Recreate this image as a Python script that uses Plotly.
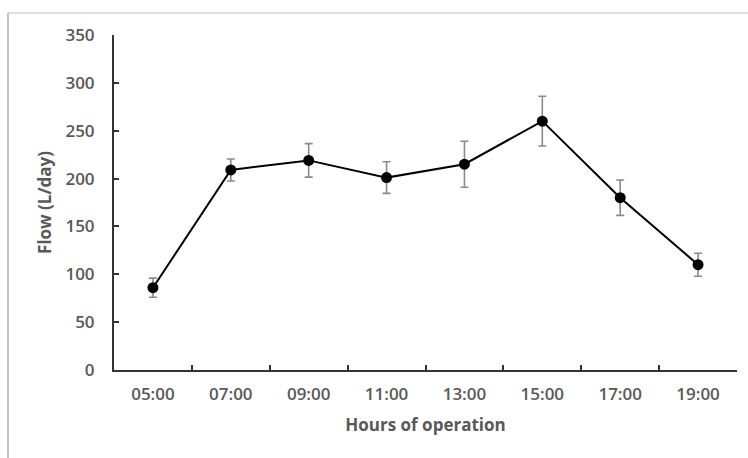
import plotly.graph_objects as go

hours = ["05:00", "07:00", "09:00", "11:00", "13:00", "15:00", "17:00", "19:00"]
flow = [86, 209, 219, 201, 215, 260, 180, 110]
err = [10, 11.5, 17.5, 16.5, 24, 26, 18.5, 12]
y_ticks = [0, 50, 100, 150, 200, 250, 300, 350]

W, H = 748, 458
ML, MR, MT, MB = 114, 11, 35, 88
pw, ph = W - ML - MR, H - MT - MB

def px_x(x):
    return (x - ML) / pw

def px_y(y):
    return (H - MB - y) / ph

fig = go.Figure()
fig.add_trace(go.Scatter(
    x=hours, y=flow, mode="lines+markers",
    line=dict(color="black", width=2),
    marker=dict(color="black", size=11),
    error_y=dict(type="data", array=err, visible=True, color="#8a8a8a", thickness=1.6, width=4),
    showlegend=False,
))

tick_font = dict(family="Open Sans, sans-serif", size=17, color="#595959", weight=600)
title_font = dict(family="Open Sans, sans-serif", size=17, color="#595959", weight=700)

fig.update_layout(
    width=W, height=H,
    margin=dict(l=ML, r=MR, t=MT, b=MB),
    paper_bgcolor="white", plot_bgcolor="white",
    xaxis=dict(
        type="category", range=[-0.5, len(hours) - 0.5],
        showline=True, linecolor="#333333", linewidth=2,
        ticks="inside", ticklen=5, tickwidth=1.5, tickcolor="#333333",
        tickson="boundaries", showgrid=False, zeroline=False,
        tickfont=tick_font, ticklabelstandoff=8,
        title=dict(text="Hours of operation", font=title_font, standoff=15),
    ),
    yaxis=dict(
        range=[0, 350], tickvals=y_ticks,
        showline=True, linecolor="#333333", linewidth=2,
        ticks="inside", ticklen=5, tickwidth=1.5, tickcolor="#333333",
        showgrid=False, zeroline=False,
        tickfont=tick_font, ticklabelstandoff=14,
        title=dict(text="Flow (L/day)", font=title_font, standoff=9),
    ),
    shapes=[
        dict(type="line", xref="paper", yref="paper",
             x0=px_x(8), x1=px_x(W), y0=px_y(13), y1=px_y(13),
             line=dict(color="#d4d4d4", width=1.5)),
        dict(type="line", xref="paper", yref="paper",
             x0=px_x(8), x1=px_x(8), y0=px_y(13), y1=px_y(H),
             line=dict(color="#c4c4c4", width=2)),
    ],
)

fig.write_html("out.html")
